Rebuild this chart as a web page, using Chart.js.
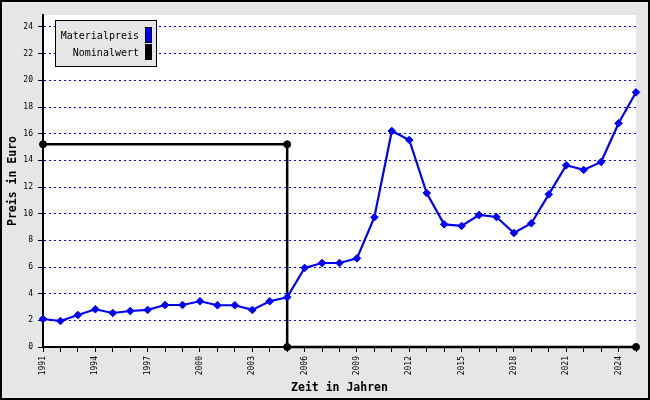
<!DOCTYPE html>
<html>
<head>
<meta charset="utf-8">
<script src="https://cdn.jsdelivr.net/npm/chart.js@4/dist/chart.umd.min.js"></script>
<style>
html,body{margin:0;padding:0;background:#fff;}
canvas{display:block;}
</style>
</head>
<body>
<canvas id="c" width="650" height="400"></canvas>
<script>
const years = [1991,1992,1993,1994,1995,1996,1997,1998,1999,2000,2001,2002,2003,2004,2005,2006,2007,2008,2009,2010,2011,2012,2013,2014,2015,2016,2017,2018,2019,2020,2021,2022,2023,2024,2025];
const materialpreis = [2.1,1.95,2.4,2.83,2.55,2.7,2.78,3.15,3.15,3.43,3.13,3.13,2.78,3.43,3.73,5.93,6.3,6.3,6.65,9.73,16.2,15.53,11.55,9.2,9.08,9.9,9.75,8.55,9.28,11.45,13.63,13.28,13.88,16.78,19.1];
const nominalYears = [1991,2005,2005,2025];
const nominalwert = [15.2,15.2,0,0];
const xTickLabels = ['1991','1994','1997','2000','2003','2006','2009','2012','2015','2018','2021','2024'];
const yTickLabels = ['0','2','4','6','8','10','12','14','16','18','20','22','24'];
const seriesNames = ['Materialpreis','Nominalwert'];

const MONO = '"DejaVu Sans Mono", "Liberation Mono", monospace';

const bgPlugin = {
  id: 'bg',
  beforeDraw(chart) {
    const {ctx, chartArea: a, width, height} = chart;
    ctx.save();
    ctx.fillStyle = '#e6e6e6';
    ctx.fillRect(0, 0, width, height);
    ctx.fillStyle = '#ffffff';
    ctx.fillRect(a.left, a.top, a.right - a.left, a.bottom - a.top);
    ctx.restore();
  },
  afterDraw(chart) {
    const {ctx, width, height} = chart;
    ctx.save();
    // legend
    const bx = 55.5, by = 20.5, bw = 101, bh = 46;
    ctx.fillStyle = '#e6e6e6';
    ctx.fillRect(bx, by, bw, bh);
    ctx.strokeStyle = '#000';
    ctx.lineWidth = 1;
    ctx.strokeRect(bx, by, bw, bh);
    ctx.font = '10px ' + MONO;
    ctx.fillStyle = '#000';
    ctx.textAlign = 'right';
    ctx.textBaseline = 'middle';
    ctx.fillText(seriesNames[0], 139, 36);
    ctx.fillText(seriesNames[1], 139, 53);
    ctx.fillStyle = '#0000ff';
    ctx.fillRect(145, 27, 7, 16);
    ctx.strokeStyle = '#000';
    ctx.strokeRect(145.5, 27.5, 6, 15);
    ctx.fillStyle = '#000';
    ctx.fillRect(145, 44, 7, 16);
    // outer border
    ctx.lineWidth = 2;
    ctx.strokeStyle = '#000';
    ctx.strokeRect(1, 1, width - 2, height - 2);
    ctx.restore();
  }
};

new Chart(document.getElementById('c'), {
  type: 'line',
  data: {
    datasets: [
      {
        label: seriesNames[0],
        data: years.map((y, i) => ({x: y, y: materialpreis[i]})),
        borderColor: '#0000ff',
        backgroundColor: '#0000ff',
        borderWidth: 2.2,
        pointStyle: 'rectRot',
        pointRadius: 3.8,
        pointBorderWidth: 1,
        tension: 0,
        clip: false
      },
      {
        label: seriesNames[1],
        data: nominalYears.map((y, i) => ({x: y, y: nominalwert[i]})),
        borderColor: '#000000',
        backgroundColor: '#000000',
        borderWidth: 2.5,
        pointStyle: 'circle',
        pointRadius: 3.5,
        pointBorderWidth: 1,
        tension: 0,
        clip: false
      }
    ]
  },
  options: {
    responsive: false,
    animation: false,
    events: [],
    layout: {padding: {left: 0, top: 15, right: 14, bottom: 0}},
    plugins: {legend: {display: false}, tooltip: {enabled: false}},
    scales: {
      x: {
        type: 'linear',
        min: 1991,
        max: 2025,
        afterFit(axis) { axis.height = 53; },
        ticks: {
          stepSize: 1,
          autoSkip: false,
          maxRotation: 90,
          minRotation: 90,
          padding: 4,
          color: '#000',
          font: {family: MONO, size: 8},
          callback(v) { const s = String(v); return xTickLabels.includes(s) ? s : ''; }
        },
        grid: {
          drawOnChartArea: false,
          drawTicks: true,
          tickLength: 5,
          tickColor: '#000',
          tickWidth: 1
        },
        border: {display: true, color: '#000', width: 2},
        title: {
          display: true,
          text: 'Zeit in Jahren',
          color: '#000',
          font: {family: MONO, size: 11.5, weight: 'bold'},
          padding: {top: 0, bottom: 5}
        }
      },
      y: {
        min: 0,
        max: 24.9,
        afterFit(axis) { axis.width = 43; },
        ticks: {
          stepSize: 2,
          includeBounds: false,
          padding: 5,
          color: '#000',
          font: {family: MONO, size: 8},
          callback(v) { const s = String(v); return yTickLabels.includes(s) ? s : ''; }
        },
        grid: {
          color: '#0000ff',
          lineWidth: 1,
          tickLength: 5,
          tickColor: '#000',
          tickWidth: 1,
          tickBorderDash: [1, 0]
        },
        border: {display: true, color: '#000', width: 2, dash: [2, 3]},
        title: {
          display: true,
          text: 'Preis in Euro',
          color: '#000',
          font: {family: MONO, size: 11.5, weight: 'bold'},
          padding: {top: 6, bottom: 0}
        }
      }
    }
  },
  plugins: [bgPlugin]
});
</script>
</body>
</html>
